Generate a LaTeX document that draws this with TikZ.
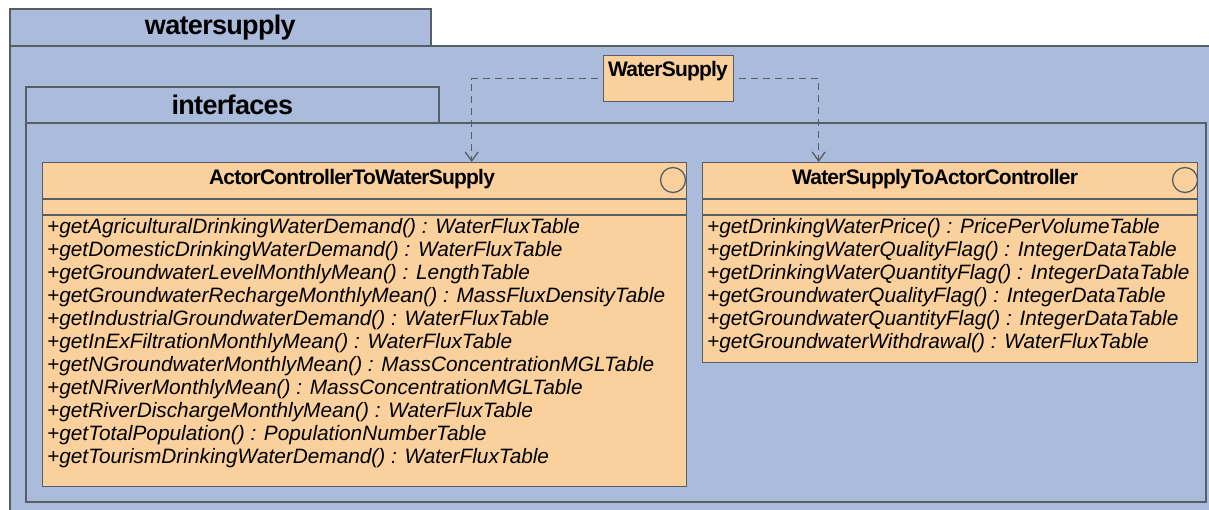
\documentclass[tikz,border=0pt]{standalone}
\usepackage{fontspec}
\setmainfont{Liberation Sans}
\usetikzlibrary{arrows.meta}
\definecolor{pkgblue}{RGB}{171,187,220}
\definecolor{clsorange}{RGB}{250,209,156}
\definecolor{linegray}{RGB}{85,95,100}

\begin{document}
\begin{tikzpicture}[x=1pt,y=-1pt,>={Straight Barb[length=9pt,width=13pt]},
    pkg body/.style={rectangle,draw=linegray,line width=1.6pt,fill=pkgblue,anchor=north west,inner sep=0},
    pkg tab/.style={pkg body,font=\bfseries\fontsize{27}{27}\selectfont\addfontfeature{LetterSpace=-2.5}},
    class box/.style={rectangle,draw=linegray,line width=1.3pt,fill=clsorange,anchor=north west,inner sep=0},
    class name/.style={font=\bfseries\fontsize{21}{21}\selectfont\addfontfeature{LetterSpace=-3.7},inner sep=0},
    methods/.style={font=\itshape\fontsize{20.8}{23}\selectfont,align=left,anchor=north west,inner sep=0},
    dep/.style={->,dashed,dash pattern=on 7pt off 5pt,draw=linegray,line width=1.3pt,shorten <=5pt}]
    \clip (0,0) rectangle (1209,510);

    % packages
    \node [pkg body, minimum width=1206, minimum height=475](wsbody) at (9,45){};
    \node [pkg tab, minimum width=421, minimum height=37](wstab) at (9,8){watersupply};
    \node [pkg body, minimum width=1180, minimum height=379](ifbody) at (25,122){};
    \node [pkg tab, minimum width=413, minimum height=36](iftab) at (25,86){interfaces};

    % classes
    \node [class box, minimum width=130, minimum height=46](ws) at (603,55){};
    \node [class name](wsname) at (668,71){WaterSupply};

    \node [class box, minimum width=644, minimum height=324](ac2ws) at (42,162){};
    \node [class name](ac2wsname) at (352,179){ActorControllerToWaterSupply};
    \node [circle, draw=linegray, line width=1.3pt, minimum size=25, inner sep=0](ac2wsicon) at (673,180){};
    \draw [draw=linegray, line width=1.3pt] ([yshift=-37]ac2ws.north west) -- ([yshift=-37]ac2ws.north east)
        ([yshift=-53]ac2ws.north west) -- ([yshift=-53]ac2ws.north east);
    \node [methods](ac2wsops) at (47,218){+getAgriculturalDrinkingWaterDemand() : WaterFluxTable\\
        +getDomesticDrinkingWaterDemand() : WaterFluxTable\\
        +getGroundwaterLevelMonthlyMean() : LengthTable\\
        +getGroundwaterRechargeMonthlyMean() : MassFluxDensityTable\\
        +getIndustrialGroundwaterDemand() : WaterFluxTable\\
        +getInExFiltrationMonthlyMean() : WaterFluxTable\\
        +getNGroundwaterMonthlyMean() : MassConcentrationMGLTable\\
        +getNRiverMonthlyMean() : MassConcentrationMGLTable\\
        +getRiverDischargeMonthlyMean() : WaterFluxTable\\
        +getTotalPopulation() : PopulationNumberTable\\
        +getTourismDrinkingWaterDemand() : WaterFluxTable};

    \node [class box, minimum width=495, minimum height=200](ws2ac) at (702,162){};
    \node [class name](ws2acname) at (935,179){WaterSupplyToActorController};
    \node [circle, draw=linegray, line width=1.3pt, minimum size=25, inner sep=0](ws2acicon) at (1185,180){};
    \draw [draw=linegray, line width=1.3pt] ([yshift=-37]ws2ac.north west) -- ([yshift=-37]ws2ac.north east)
        ([yshift=-53]ws2ac.north west) -- ([yshift=-53]ws2ac.north east);
    \node [methods](ws2acops) at (707,218){+getDrinkingWaterPrice() : PricePerVolumeTable\\
        +getDrinkingWaterQualityFlag() : IntegerDataTable\\
        +getDrinkingWaterQuantityFlag() : IntegerDataTable\\
        +getGroundwaterQualityFlag() : IntegerDataTable\\
        +getGroundwaterQuantityFlag() : IntegerDataTable\\
        +getGroundwaterWithdrawal() : WaterFluxTable};

    % dependencies
    \draw [dep] (ws.west) -| ([xshift=107]ac2ws.north);
    \draw [dep] (ws.east) -| ([xshift=-131.5]ws2ac.north);
\end{tikzpicture}
\end{document}
